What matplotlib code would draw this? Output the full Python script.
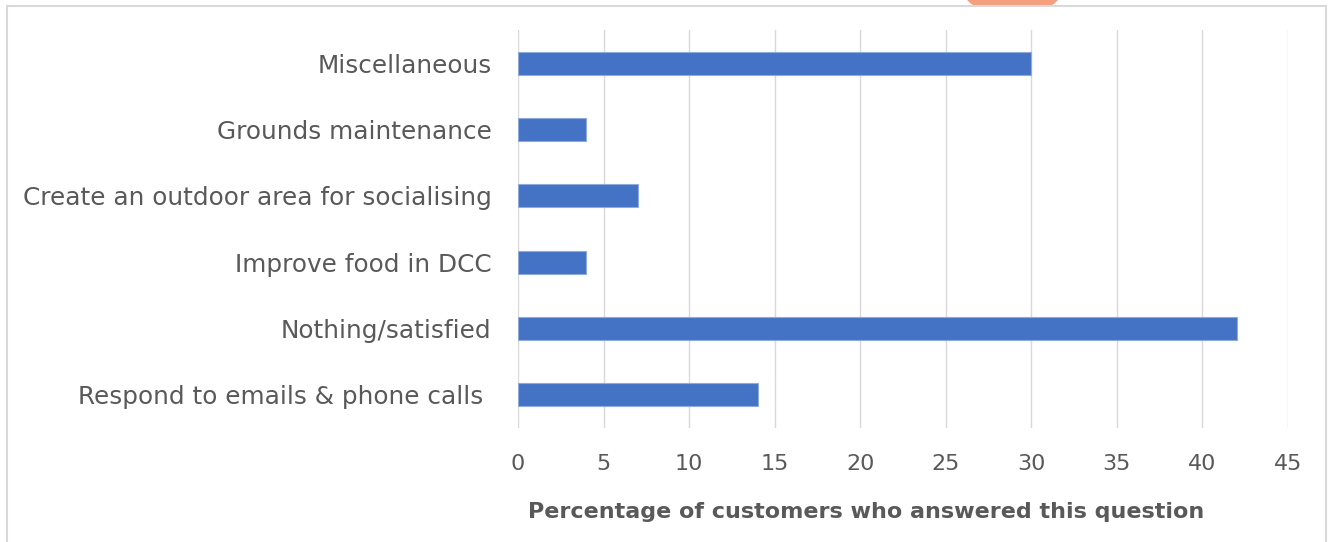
import matplotlib.pyplot as plt
import matplotlib.patches as mpatches

categories = [
    "Respond to emails & phone calls ",
    "Nothing/satisfied",
    "Improve food in DCC",
    "Create an outdoor area for socialising",
    "Grounds maintenance",
    "Miscellaneous",
]
values = [14, 42, 4, 7, 4, 30]
xticks = [0, 5, 10, 15, 20, 25, 30, 35, 40, 45]
xlabel = "Percentage of customers who answered this question"

W, H = 1329, 542
plt.rcParams["font.family"] = ["DejaVu Sans"]

fig = plt.figure(figsize=(W / 100, H / 100), dpi=100)

# shape behind the chart, only its lower edge shows above the frame
fig.patches.append(mpatches.Ellipse((1012.5 / W, 1 + 6 / H), 95 / W, 40 / H,
                                    transform=fig.transFigure, facecolor="#f4a07f",
                                    edgecolor="none", zorder=-2))
# white chart frame
fig.patches.append(mpatches.Rectangle((7 / W, -0.05), (1326 - 7) / W, 1.05 - 6 / H,
                                      transform=fig.transFigure, facecolor="white",
                                      edgecolor="#d9d9d9", linewidth=1.5, zorder=-1))

ax = fig.add_axes([518 / W, 1 - 428 / H, (1288 - 518) / W, (428 - 30) / H])
ax.patch.set_alpha(0)
ax.barh(range(len(categories)), values, height=0.35, color="#4472c4",
        edgecolor="#8eaadb", linewidth=0.8, zorder=3)

ax.set_xlim(0, 45)
ax.set_ylim(-0.5, len(categories) - 0.5)
ax.set_xticks(xticks)
ax.set_yticks(range(len(categories)))
ax.set_yticklabels(categories)
ax.grid(axis="x", color="#d9d9d9", linewidth=1.0, zorder=0)
for s in ax.spines.values():
    s.set_visible(False)
ax.tick_params(axis="both", length=0, labelcolor="#595959")
ax.tick_params(axis="y", pad=19, labelsize=17.8)
ax.tick_params(axis="x", pad=19, labelsize=16)

ax.set_xlabel(xlabel, fontsize=16, fontweight="bold", color="#595959")
ax.xaxis.set_label_coords(0.452, -0.186)

fig.savefig("out.png", dpi=100)
